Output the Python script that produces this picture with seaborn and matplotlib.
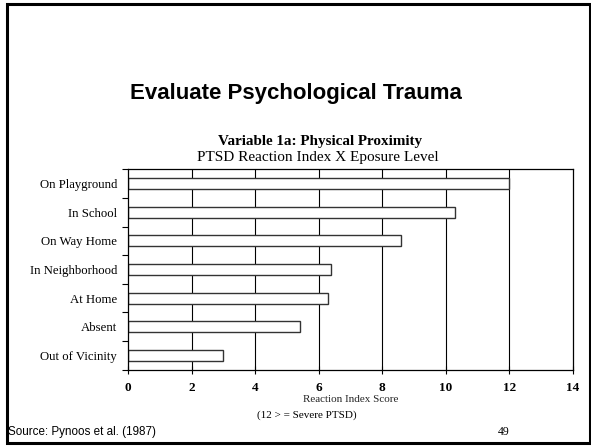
import numpy as np
import pandas as pd
import matplotlib.pyplot as plt
import seaborn as sns
from matplotlib.patches import Rectangle
from matplotlib.ticker import FixedLocator

sns.set_style("white")
plt.rcParams['font.family'] = ['Liberation Serif', 'DejaVu Serif']
plt.rcParams['text.color'] = 'black'
plt.rcParams['xtick.color'] = 'black'
plt.rcParams['ytick.color'] = 'black'

# data
locations = ["On Playground", "In School", "On Way Home", "In Neighborhood",
             "At Home", "Absent", "Out of Vicinity"]
scores = [12.0, 10.3, 8.6, 6.4, 6.3, 5.4, 3.0]
x_ticks = [0, 2, 4, 6, 8, 10, 12, 14]

df = pd.DataFrame({"location": locations, "score": scores})

fig = plt.figure(figsize=(5.91, 4.46), dpi=100)
ax = fig.add_axes([128 / 591, 1 - 369.5 / 446, 445 / 591, 200 / 446])

sns.barplot(data=df, y="location", x="score", orient="h", ax=ax,
            color="white", edgecolor="#333333", linewidth=1.0, width=0.38)

ax.set_xlim(0, 14)
ax.set_ylim(6.5, -0.5)
ax.set_xticks(x_ticks)
ax.set_xticklabels([str(t) for t in x_ticks], fontweight="bold", fontsize=9.5)
for t in x_ticks[1:-1]:
    ax.axvline(t, color="black", lw=0.8, zorder=0)
ax.tick_params(axis="x", bottom=True, direction="inout", length=6, width=0.8, pad=6)
ax.tick_params(axis="y", which="major", left=True, length=0, labelsize=9.2, pad=8)
ax.yaxis.set_minor_locator(FixedLocator(np.arange(-0.5, 7, 1)))
ax.tick_params(axis="y", which="minor", left=True, direction="out", length=4, width=0.8)
for s in ax.spines.values():
    s.set_color("black")
    s.set_linewidth(0.9)
ax.set_ylabel("")
ax.set_xlabel("Reaction Index Score", fontsize=8, labelpad=1)

fig.text(0.5, 1 - 93 / 446, "Evaluate Psychological Trauma", ha="center", va="center",
         fontsize=16, fontweight="bold", family="Liberation Sans")
fig.text(320 / 591, 1 - 141 / 446, "Variable 1a: Physical Proximity", ha="center",
         va="center", fontsize=10.9, fontweight="bold")
fig.text(318 / 591, 1 - 158 / 446, "PTSD Reaction Index X Eposure Level", ha="center",
         va="center", fontsize=11)
fig.text(307 / 591, 1 - 415 / 446, "(12 > = Severe PTSD)", ha="center", va="center",
         fontsize=8)
fig.text(8 / 591, 1 - 432 / 446, "Source: Pynoos et al. (1987)", ha="left", va="center",
         fontsize=8.4, family="Liberation Sans")
fig.text(510 / 591, 1 - 432 / 446, "49", ha="right", va="center", fontsize=8.5)

fig.patches.append(Rectangle((6.5 / 591, 3.5 / 446), 583 / 591, 439 / 446,
                             transform=fig.transFigure, fill=False,
                             edgecolor="black", lw=2.2))

fig.savefig("out.png", dpi=100)
